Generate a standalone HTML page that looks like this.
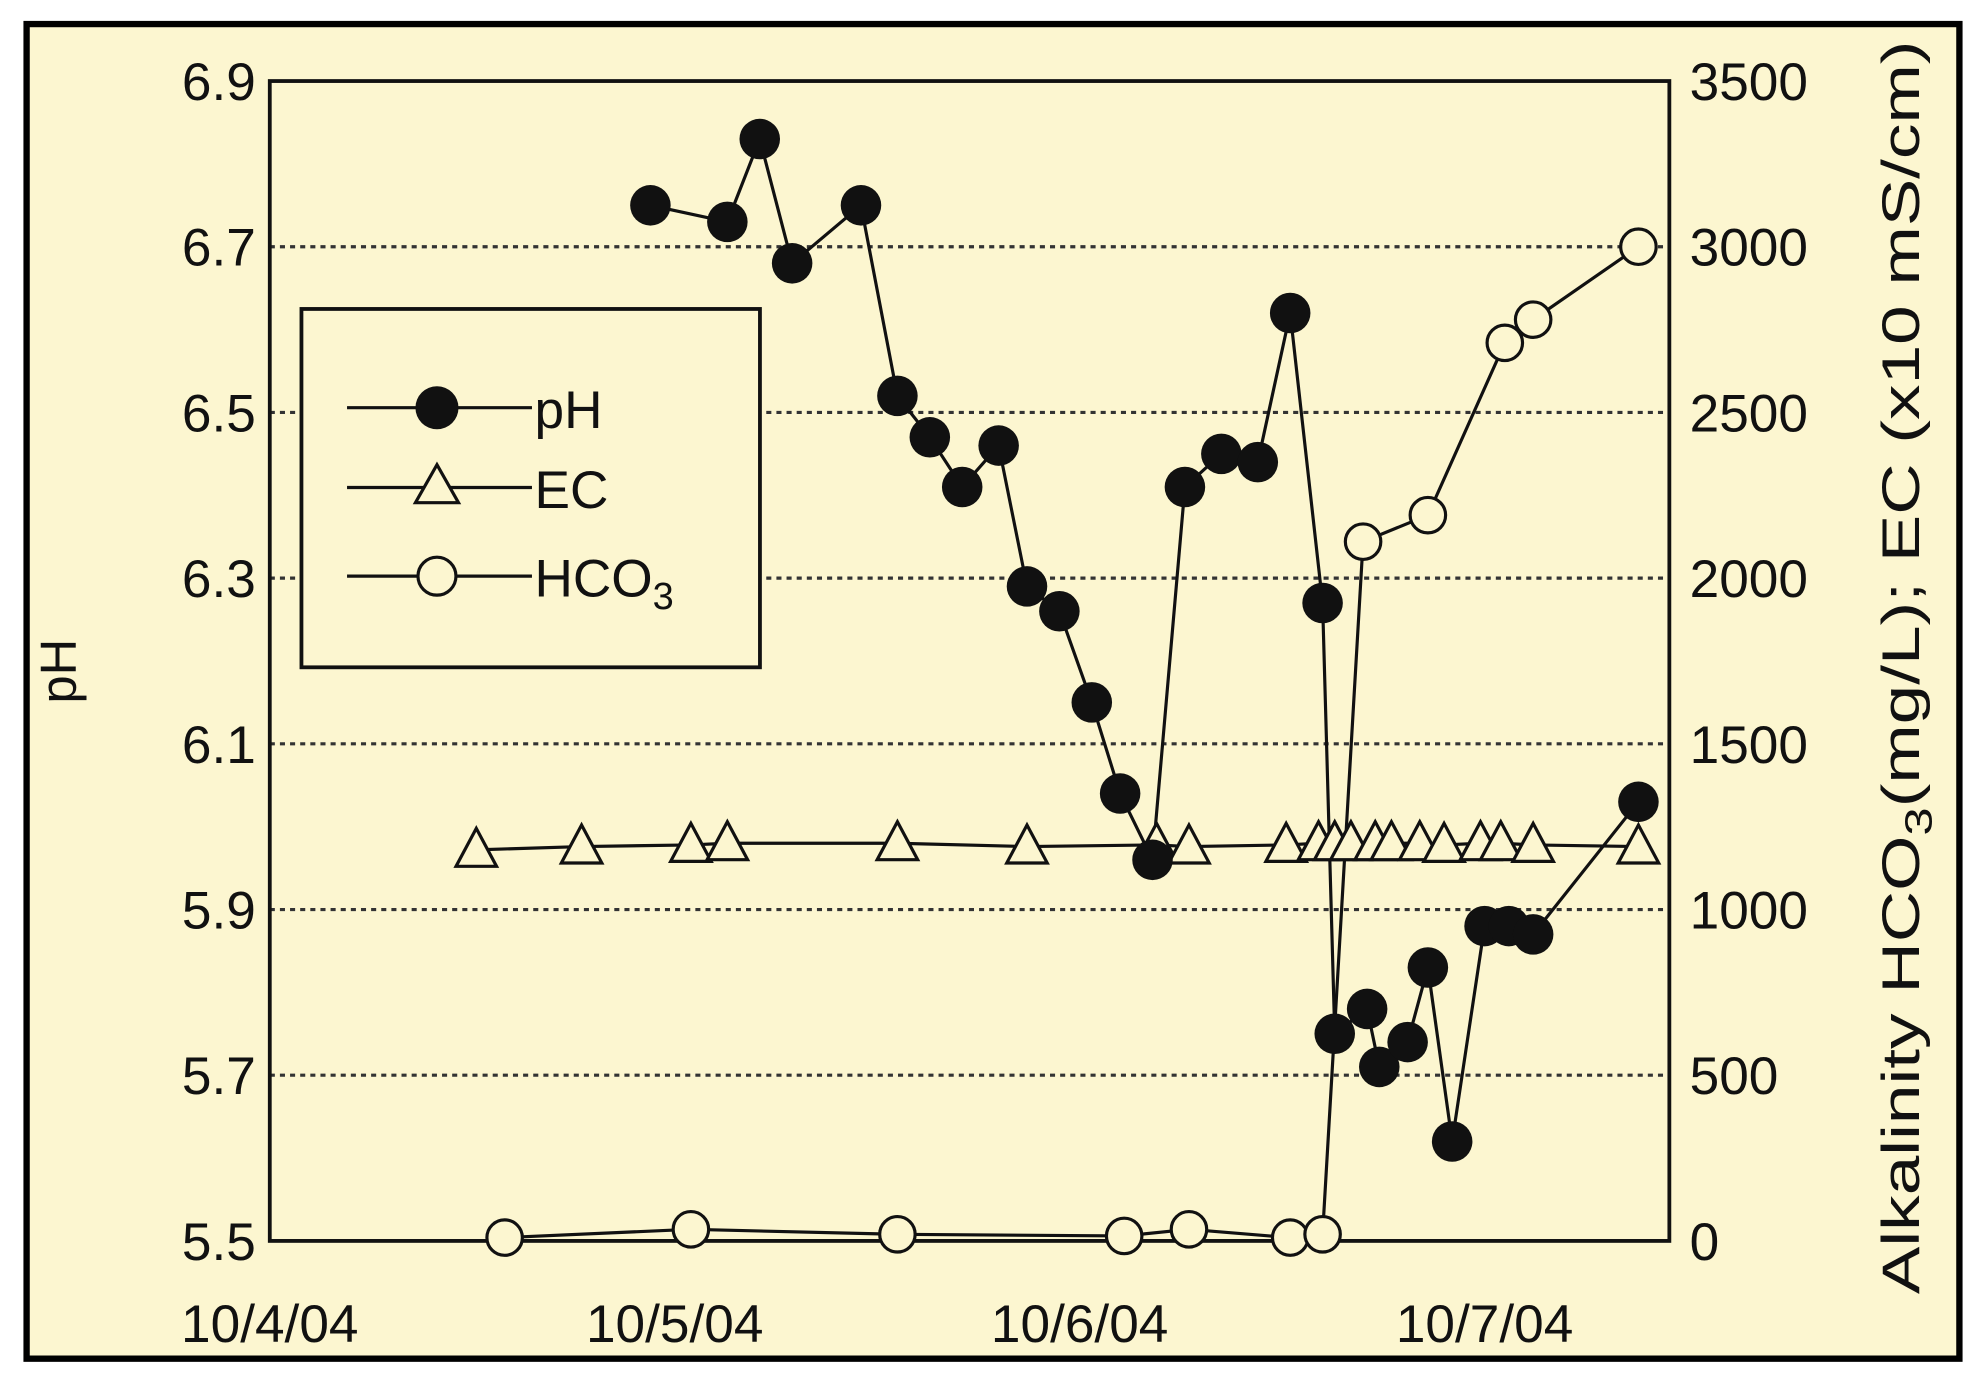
<!DOCTYPE html>
<html><head><meta charset="utf-8"><style>
html,body{margin:0;padding:0;background:#fff;}
svg{display:block;}
text{font-family:"Liberation Sans",Arial,sans-serif;fill:#111;}
</style></head><body>
<svg width="1986" height="1384" viewBox="0 0 1568 1093" preserveAspectRatio="none">
<rect x="0" y="0" width="1568" height="1093" fill="#ffffff"/>
<rect x="21" y="19" width="1526" height="1054" fill="#fcf6d0" stroke="#000" stroke-width="5"/>
<g id="grid"></g>
<rect x="213" y="64" width="1105" height="916" fill="none" stroke="#111" stroke-width="3"/>
<g id="axes"></g>
<g id="series"></g>
<text x="60" y="530" font-size="40" text-anchor="middle" transform="rotate(-90 60 530)">pH</text>
<text x="1515" y="527" font-size="42" text-anchor="middle" textLength="990" lengthAdjust="spacingAndGlyphs" transform="rotate(-90 1515 527)">Alkalinity HCO<tspan font-size="30" dy="10">3</tspan><tspan dy="-10">(mg/L); EC (x10 mS/cm)</tspan></text>
<g>
<rect x="238" y="244" width="362" height="283" fill="#fcf6d0" stroke="#111" stroke-width="3"/>
<g>
<line x1="274" y1="322" x2="420" y2="322" stroke="#111" stroke-width="2.5"/>
<circle cx="345" cy="322" r="17" fill="#111"/>
<text x="422" y="338" font-size="42">pH</text></g>
<g>
<line x1="274" y1="385" x2="420" y2="385" stroke="#111" stroke-width="2.5"/>
<polygon points="345,367 362,397 328,397" fill="#fcf6d0" stroke="#111" stroke-width="2.5"/>
<text x="422" y="401" font-size="42">EC</text></g>
<g>
<line x1="274" y1="455" x2="420" y2="455" stroke="#111" stroke-width="2.5"/>
<circle cx="345" cy="455" r="15" fill="#fcf6d0" stroke="#111" stroke-width="2.5"/>
<text x="422" y="471" font-size="42">HCO<tspan font-size="30" dy="10">3</tspan></text></g>
</g>
</svg>
<script>
const phTicks=[5.5,5.7,5.9,6.1,6.3,6.5,6.7,6.9];
const rightTicks=[0,500,1000,1500,2000,2500,3000,3500];
const dateLabels=["10/4/04","10/5/04","10/6/04","10/7/04"];
const phDays=[0.94,1.13,1.21,1.29,1.46,1.55,1.63,1.71,1.80,1.87,1.95,2.03,2.10,2.18,2.26,2.35,2.44,2.52,2.60,2.63,2.71,2.74,2.81,2.86,2.92,3.00,3.06,3.12,3.38];
const phValues=[6.75,6.73,6.83,6.68,6.75,6.52,6.47,6.41,6.46,6.29,6.26,6.15,6.04,5.96,6.41,6.45,6.44,6.62,6.27,5.75,5.78,5.71,5.74,5.83,5.62,5.88,5.88,5.87,6.03];
const ecDays=[0.51,0.77,1.04,1.13,1.55,1.87,2.19,2.27,2.51,2.59,2.63,2.67,2.73,2.77,2.84,2.90,2.99,3.04,3.12,3.38];
const ecValues=[1180,1190,1195,1200,1200,1190,1195,1190,1195,1200,1200,1200,1200,1200,1200,1195,1200,1200,1195,1190];
const hcoDays=[0.58,1.04,1.55,2.11,2.27,2.52,2.60,2.70,2.86,3.05,3.12,3.38];
const hcoValues=[10,35,20,15,35,10,20,2110,2190,2710,2780,3000];
const NS="http://www.w3.org/2000/svg";
const X0=213,X1=1318,Y0=980,Y1=64,DAY=319.7;
const xs=d=>X0+d*DAY;
const yPH=v=>Y0-(v-5.5)/1.4*(Y0-Y1);
const yR=v=>Y0-v/3500*(Y0-Y1);
function mk(tag,attrs,parent){const e=document.createElementNS(NS,tag);for(const k in attrs)e.setAttribute(k,attrs[k]);parent.appendChild(e);return e;}
const grid=document.getElementById('grid'),axes=document.getElementById('axes'),ser=document.getElementById('series');
phTicks.forEach(v=>{
 const y=yPH(v);
 if(v>5.5&&v<6.9){const l=mk('line',{x1:X0,x2:X1,y1:y,y2:y,stroke:'#333','stroke-width':2.5,'stroke-dasharray':'4 4'},grid);
 
 }
 const t=mk('text',{x:202,y:y+15,'font-size':42,'text-anchor':'end'},axes);t.textContent=v.toFixed(1);
 
 
});
rightTicks.forEach(v=>{
 const t=mk('text',{x:1334,y:yR(v)+15,'font-size':42},axes);t.textContent=v;
 
 
});
dateLabels.forEach((s,i)=>{
 const t=mk('text',{x:xs(i),y:1060,'font-size':42,'text-anchor':'middle'},axes);t.textContent=s;
 
 
});
function line(days,vals,fy,name){
 const p=mk('polyline',{points:days.map((d,i)=>xs(d)+','+fy(vals[i])).join(' '),fill:'none',stroke:'#111','stroke-width':2.5},ser);
 
 
}
line(ecDays,ecValues,yR,'ec-line');
line(hcoDays,hcoValues,yR,'hco3-line');
line(phDays,phValues,yPH,'ph-line');
ecDays.forEach((d,i)=>{const x=xs(d),y=yR(ecValues[i]);
 const e=mk('polygon',{points:`${x},${y-17} ${x+16},${y+13} ${x-16},${y+13}`,fill:'#fcf6d0',stroke:'#111','stroke-width':2.5},ser);
 
 });
hcoDays.forEach((d,i)=>{
 const e=mk('circle',{cx:xs(d),cy:yR(hcoValues[i]),r:14,fill:'#fcf6d0',stroke:'#111','stroke-width':2.5},ser);
 
 });
phDays.forEach((d,i)=>{
 const e=mk('circle',{cx:xs(d),cy:yPH(phValues[i]),r:16,fill:'#111'},ser);
 
 });
</script>
</body></html>
